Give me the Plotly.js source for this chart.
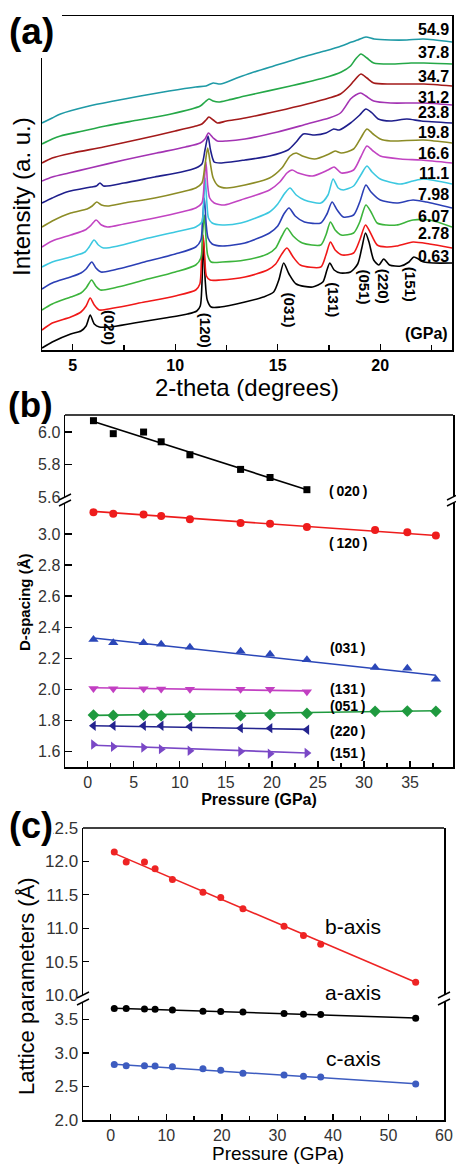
<!DOCTYPE html>
<html>
<head>
<meta charset="utf-8">
<script src="https://cdn.plot.ly/plotly-3.0.1.min.js"></script>
<style>html,body{margin:0;padding:0;background:#fff;}#chart{width:456px;height:1165px;}</style>
</head>
<body>
<div id="chart"></div>
<script>
// ---------------- DATA ----------------
// (a) XRD patterns: 2-theta (deg) and intensity (a.u., offset stacked)
const theta_063 = [3.5,4.0,4.9,5.4,5.65,5.85,6.05,6.3,6.8,8.0,9.5,10.6,11.05,11.22,11.3,11.38,11.46,11.56,11.75,12.2,13.4,14.3,14.8,15.05,15.29,15.55,15.9,16.7,17.2,17.4,17.54,17.75,18.06,18.55,18.9,19.1,19.28,19.45,19.68,19.93,20.17,20.45,21.0,21.4,21.64,22.13,22.6,23.5];
const int_063   = [2,8,16,19,24,35,26,23,23,27,32,36,39,44,65,110,70,50,43,43,48,53,58,70,87,76,66,63,68,80,87,80,77,78,86,102,117,108,90,85,91,85,84,88,93,88,87,87];
const theta_278 = [3.5,4.0,4.9,5.4,5.65,5.85,6.05,6.3,7.0,8.5,10.0,11.0,11.2,11.28,11.36,11.44,11.52,11.7,12.2,13.4,14.5,14.9,15.2,15.45,15.75,16.1,17.1,17.35,17.57,17.8,18.15,18.7,19.0,19.28,19.5,19.85,20.3,20.8,21.6,22.4,23.5];
const int_278   = [20,27,33,38,44,52,45,40,42,48,54,60,66,90,115,92,74,70,70,73,80,86,96,102,93,85,83,95,108,100,95,97,110,125,118,105,103,104,108,106,102];
const theta_607 = [3.5,4.0,4.9,5.4,5.65,5.92,6.12,6.35,7.0,8.5,10.0,11.0,11.25,11.33,11.42,11.5,11.58,11.75,12.3,13.4,14.5,14.9,15.2,15.45,15.75,16.2,17.1,17.35,17.57,17.8,18.1,18.7,19.0,19.3,19.55,19.85,20.3,20.8,21.6,22.4,23.5];
const int_607   = [40,46,53,57,62,70,64,60,62,70,78,85,92,115,135,112,95,88,88,90,96,102,114,122,114,107,105,115,128,120,115,117,128,145,138,127,125,125,130,130,123];
const theta_798 = [3.5,4.0,4.9,5.4,5.65,5.93,6.13,6.38,7.0,8.5,10.0,11.0,11.25,11.33,11.42,11.5,11.6,11.8,12.3,13.4,14.6,15.0,15.3,15.55,15.85,16.3,17.1,17.4,17.65,17.9,18.2,18.7,19.0,19.3,19.55,20.0,20.8,21.6,22.25,23.5];
const int_798   = [61,67,73,77,81,88,82,78,80,88,96,103,110,130,152,128,112,106,104,107,117,124,136,142,134,128,127,136,148,140,133,135,148,165,158,150,147,150,148,142];
const theta_111 = [3.5,4.0,4.9,5.6,5.8,6.04,6.25,6.5,7.2,8.5,10.0,11.0,11.3,11.38,11.46,11.54,11.62,11.8,12.3,13.2,14.6,15.0,15.35,15.6,15.9,16.3,17.1,17.45,17.7,17.95,18.2,18.7,19.05,19.35,19.6,20.0,21.0,21.6,22.1,23.5];
const int_111   = [83,88,93,98,103,110,105,102,104,111,118,123,128,145,172,148,132,127,125,127,138,146,157,162,155,150,147,155,171,162,160,164,175,184,178,171,166,169,171,166];
const theta_166 = [3.5,4.0,4.9,5.6,5.9,6.14,6.4,6.7,7.5,9.0,10.3,11.0,11.3,11.42,11.5,11.58,11.68,11.9,12.4,13.2,14.6,15.1,15.45,15.7,16.0,16.7,17.45,17.75,18.1,18.7,19.05,19.35,19.65,20.0,21.0,22.0,23.5];
const int_166   = [103,109,115,120,125,130,125,123,126,132,138,142,147,170,188,165,152,147,145,150,160,168,177,180,177,174,180,183,177,180,193,204,199,194,191,190,187];
const theta_198 = [3.5,4.0,4.9,5.7,5.95,6.17,6.4,6.7,7.5,9.0,10.3,11.0,11.3,11.45,11.58,11.7,11.85,12.1,12.5,13.4,14.6,15.2,15.6,15.9,16.2,16.8,17.5,17.8,18.1,18.7,19.05,19.35,19.65,20.0,20.5,22.1,23.5];
const int_198   = [123,129,137,141,144,148,145,144,147,152,158,162,167,185,202,188,172,164,162,165,172,182,194,197,194,191,196,199,197,201,212,221,216,211,209,210,207];
const theta_238 = [3.5,4.0,4.7,5.9,6.15,6.33,6.5,7.5,9.0,10.3,11.0,11.3,11.45,11.6,11.72,11.9,12.2,13.4,14.6,15.5,15.9,16.25,16.8,17.35,17.73,18.0,18.55,19.0,19.3,19.6,19.9,20.5,21.3,22.0,23.5];
const int_238   = [147,152,158,163,164,167,164,167,173,178,182,186,200,214,200,188,187,190,194,200,208,216,215,217,221,220,227,235,241,237,231,229,231,229,227];
const theta_312 = [3.5,4.0,4.8,5.84,7.5,9.1,10.5,11.22,11.45,11.62,11.85,12.05,12.5,13.4,15.0,16.43,17.5,18.06,18.55,18.8,19.04,19.3,19.68,20.5,21.5,22.13,23.5];
const int_312   = [169,173,177,182,190,197,203,207,211,217,212,209,209,211,218,226,232,237,251,255,257,254,249,247,247,247,245];
const theta_347 = [3.5,4.0,5.0,6.5,8.3,10.0,11.0,11.3,11.5,11.64,11.85,12.05,12.5,13.4,15.0,16.43,17.5,18.06,18.5,18.71,19.06,19.35,19.68,20.5,21.5,22.13,23.5];
const int_347   = [187,192,197,203,211,219,224,226,230,233,230,227,229,232,239,246,252,256,264,269,276,272,267,266,266,266,264];
const theta_378 = [3.5,4.0,4.4,5.5,6.6,8.2,9.8,11.22,11.45,11.64,11.85,12.12,12.6,13.4,15.62,17.24,18.1,18.55,18.8,19.06,19.35,19.68,20.5,21.5,22.13,23.5];
const int_378   = [206,211,214,219,224,230,236,244,248,251,249,248,250,254,264,272,278,284,291,296,292,287,286,287,287,286];
const theta_549 = [3.5,4.0,4.4,5.8,7.0,8.3,9.7,11.0,11.5,11.85,12.2,13.0,13.7,14.8,16.4,17.3,18.1,18.6,18.9,19.3,19.7,20.5,21.3,22.1,23.5];
const int_549   = [227,232,236,244,249,254,259,263,264,267,266,272,277,284,294,299,304,308,310,313,311,310,310,311,308];

const pressureLabels = ['0.63','2.78','6.07','7.98','11.1','16.6','19.8','23.8','31.2','34.7','37.8','54.9'];
const peakLabels = ['(020)','(120)','(031)','(131)','(051)','(220)','(151)'];
const peakTheta  = [6.82, 11.46, 15.62, 17.73, 19.23, 20.2, 21.51];

// (b) d-spacing vs pressure
const pressB8  = [0.63, 2.78, 6.07, 7.98, 11.1, 16.6, 19.8, 23.8];
const pressB11 = [0.63, 2.78, 6.07, 7.98, 11.1, 16.6, 19.8, 23.8, 31.2, 34.7, 37.8];
const d020 = [6.07, 5.99, 6.00, 5.94, 5.86, 5.77, 5.72, 5.645];
const d120 = [3.14, 3.13, 3.125, 3.115, 3.095, 3.07, 3.065, 3.045, 3.025, 3.01, 2.99];
const d031 = [2.32, 2.30, 2.30, 2.29, 2.27, 2.245, 2.225, 2.19, 2.14, 2.135, 2.065];
const d131 = [2.005, 2.004, 2.004, 2.002, 2.0, 2.0, 2.0, 1.985];
const d051 = [1.834, 1.832, 1.834, 1.83, 1.828, 1.83, 1.837, 1.845, 1.858, 1.86, 1.858];
const d220 = [1.765, 1.765, 1.765, 1.765, 1.76, 1.75, 1.75, 1.74];
const d151 = [1.645, 1.63, 1.625, 1.615, 1.605, 1.60, 1.585, 1.59];
const fitX8 = [0.63, 23.8], fitX11 = [0.63, 37.8];
const fit020 = [6.065, 5.645], fit120 = [3.145, 2.99], fit031 = [2.33, 2.09];
const fit131 = [2.01, 1.99], fit051 = [1.832, 1.862], fit220 = [1.765, 1.742], fit151 = [1.64, 1.59];
const hklLabels = ['(\u2009020\u2009)','(\u2009120\u2009)','(031\u2009)','(131\u2009)','(051\u2009)','(220\u2009)','(151\u2009)'];

// (c) lattice parameters vs pressure
const pressC = [0.63, 2.78, 6.07, 7.98, 11.1, 16.6, 19.8, 23.8, 31.2, 34.7, 37.8, 54.9];
const bAxis = [12.14, 11.99, 11.99, 11.89, 11.73, 11.54, 11.46, 11.29, 11.03, 10.89, 10.76, 10.19];
const aAxis = [3.66, 3.66, 3.655, 3.65, 3.64, 3.62, 3.615, 3.61, 3.585, 3.575, 3.57, 3.515];
const cAxis = [2.825, 2.81, 2.81, 2.805, 2.795, 2.765, 2.74, 2.695, 2.67, 2.65, 2.64, 2.535];
const fitXC = [0.63, 54.9];
const fitB = [12.12, 10.19], fitA = [3.665, 3.52], fitC = [2.83, 2.54];

// ---------------- LAYOUT HELPERS ----------------
const W = 456, H = 1165;
const px = x => x / W, py = y => 1 - y / H;
const FONT = 'Arial, "Liberation Sans", sans-serif';

const traces = [];
// (a)
const xrd = [
  [theta_063, int_063, '#000000'], [theta_278, int_278, '#f01818'],
  [theta_607, int_607, '#3cb43c'], [theta_798, int_798, '#2b3fb5'],
  [theta_111, int_111, '#3cc8e0'], [theta_166, int_166, '#c244c2'],
  [theta_198, int_198, '#8c8c26'], [theta_238, int_238, '#1f1f8c'],
  [theta_312, int_312, '#a333b3'], [theta_347, int_347, '#a31a1a'],
  [theta_378, int_378, '#25a848'], [theta_549, int_549, '#1f9aa6']
];
xrd.forEach((s, i) => traces.push({
  x: s[0], y: s[1], xaxis: 'x', yaxis: 'y', mode: 'lines', name: pressureLabels[i] + ' GPa',
  line: {color: s[2], width: 1.6, shape: 'spline', smoothing: 0.7}, hoverinfo: 'skip'
}));

// (b)
function series(x, y, fx, fy, xa, ya, color, symbol, size) {
  traces.push({x: fx, y: fy, xaxis: xa, yaxis: ya, mode: 'lines', line: {color: color, width: 1.6}});
  traces.push({x: x, y: y, xaxis: xa, yaxis: ya, mode: 'markers', marker: {color: color, symbol: symbol, size: size, line: {width: 0}}});
}
series(pressB8,  d020, fitX8,  fit020, 'x2', 'y3', '#000000', 'square', 7);
series(pressB11, d120, fitX11, fit120, 'x2', 'y2', '#ee1c1c', 'circle', 8);
series(pressB11, d031, fitX11, fit031, 'x2', 'y2', '#2b47b8', 'triangle-up', 9);
series(pressB8,  d131, fitX8,  fit131, 'x2', 'y2', '#c23fc2', 'triangle-down', 9);
series(pressB11, d051, fitX11, fit051, 'x2', 'y2', '#1f9a3f', 'diamond', 9);
series(pressB8,  d220, fitX8,  fit220, 'x2', 'y2', '#24248f', 'triangle-left', 9);
series(pressB8,  d151, fitX8,  fit151, 'x2', 'y2', '#7a48c6', 'triangle-right', 9);

// (c)
series(pressC, bAxis, fitXC, fitB, 'x3', 'y5', '#ee2424', 'circle', 7);
series(pressC, aAxis, fitXC, fitA, 'x3', 'y4', '#000000', 'circle', 7);
series(pressC, cAxis, fitXC, fitC, 'x3', 'y4', '#3d5cc0', 'circle', 7);

// ---------------- AXES ----------------
const baseAx = {showgrid: false, zeroline: false, showline: true, linecolor: '#000', linewidth: 1.5,
  ticks: 'inside', tickcolor: '#000', tickwidth: 1.3, automargin: false};

const layout = {
  width: W, height: H, margin: {l: 0, r: 0, t: 0, b: 0},
  paper_bgcolor: '#fff', plot_bgcolor: 'rgba(0,0,0,0)', showlegend: false,
  font: {family: FONT, color: '#000'},
  xaxis: Object.assign({}, baseAx, {
    domain: [px(42), px(452)], anchor: 'y', range: [3.5, 23.5], mirror: true,
    tickmode: 'linear', tick0: 0, dtick: 5, ticklen: 6,
    minor: {dtick: 2.5, ticks: 'inside', ticklen: 5, tickcolor: '#000', tickwidth: 1.3},
    tickfont: {family: FONT, size: 16, color: '#000', weight: 'bold'},
    title: {text: '2-theta (degrees)', font: {family: FONT, size: 24, color: '#000'}, standoff: 2}
  }),
  yaxis: Object.assign({}, baseAx, {
    domain: [py(350), py(16)], anchor: 'x', range: [0, 334], mirror: true,
    ticks: '', showticklabels: false
  }),
  xaxis2: Object.assign({}, baseAx, {
    domain: [px(65), px(453)], anchor: 'y2', range: [-2.46, 39.66],
    tickmode: 'linear', tick0: 0, dtick: 5, ticklen: 6,
    minor: {dtick: 2.5, ticks: 'inside', ticklen: 4, tickcolor: '#000', tickwidth: 1.3},
    tickfont: {family: FONT, size: 16, color: '#333'},
    title: {text: 'Pressure (GPa)', font: {family: FONT, size: 16, color: '#000', weight: 'bold'}, standoff: 3}
  }),
  yaxis2: Object.assign({}, baseAx, {
    domain: [py(767), py(503)], anchor: 'x2', range: [1.5, 3.199], mirror: true,
    tickmode: 'linear', tick0: 0, dtick: 0.2, tickformat: '.1f', ticklen: 7,
    tickfont: {family: FONT, size: 16, color: '#333'}
  }),
  yaxis3: Object.assign({}, baseAx, {
    domain: [py(497), py(415)], anchor: 'x2', range: [5.6, 6.105], mirror: true,
    tickmode: 'linear', tick0: 0, dtick: 0.2, tickformat: '.1f', ticklen: 7,
    tickfont: {family: FONT, size: 16, color: '#333'}
  }),
  xaxis3: Object.assign({}, baseAx, {
    domain: [px(83), px(444)], anchor: 'y4', range: [-5, 60],
    tickmode: 'linear', tick0: 0, dtick: 10, ticklen: 6,
    minor: {dtick: 5, ticks: 'inside', ticklen: 4, tickcolor: '#000', tickwidth: 1.3},
    tickfont: {family: FONT, size: 16, color: '#333'}
  }),
  yaxis4: Object.assign({}, baseAx, {
    domain: [py(1120), py(1002)], anchor: 'x3', range: [2.0, 3.758], mirror: true,
    tickmode: 'linear', tick0: 0, dtick: 0.5, tickformat: '.1f', ticklen: 6,
    tickfont: {family: FONT, size: 17, color: '#333'}
  }),
  yaxis5: Object.assign({}, baseAx, {
    domain: [py(995), py(828)], anchor: 'x3', range: [10.0, 12.5], mirror: true,
    tickmode: 'linear', tick0: 0, dtick: 0.5, tickformat: '.1f', ticklen: 6,
    tickfont: {family: FONT, size: 17, color: '#333'}
  })
};

// ---------------- SHAPES ----------------
const shapes = [];
const L = (x0, y0, x1, y1) => shapes.push({type: 'line', xref: 'paper', yref: 'paper',
  x0: px(x0), y0: py(y0), x1: px(x1), y1: py(y1), line: {color: '#000', width: 1.5}, layer: 'above'});
// white corner behind "(a)"
shapes.push({type: 'rect', xref: 'paper', yref: 'paper', x0: 0, x1: px(62), y0: py(58), y1: 1,
  fillcolor: '#fff', line: {width: 0}, layer: 'above'});
// top borders of (b) and (c)
shapes.push({type: 'line', xref: 'x2 domain', yref: 'y3 domain', x0: 0, x1: 1, y0: 1, y1: 1, line: {color: '#000', width: 1.5}});
shapes.push({type: 'line', xref: 'x3 domain', yref: 'y5 domain', x0: 0, x1: 1, y0: 1, y1: 1, line: {color: '#000', width: 1.5}});
// axis break marks
function brk(x, yTop, yBot) { L(x - 6, yTop + 3, x + 6, yTop - 3); L(x - 6, yBot + 3, x + 6, yBot - 3); }
brk(65, 497, 503); brk(453, 497, 503);
brk(83, 995, 1002); brk(444, 995, 1002);
layout.shapes = shapes;

// ---------------- ANNOTATIONS ----------------
const ann = [];
function A(text, x, y, size, opts) {
  ann.push(Object.assign({text: text, x: px(x), y: py(y), xref: 'paper', yref: 'paper', showarrow: false,
    xanchor: 'center', yanchor: 'middle', font: {family: FONT, size: size, color: '#000'}}, opts || {}));
}
// panel letters
A('(a)', 31, 31, 37, {font: {family: FONT, size: 37, color: '#000', weight: 'bold'}});
A('(b)', 30, 405, 35, {font: {family: FONT, size: 35, color: '#000', weight: 'bold'}});
A('(c)', 31, 825, 36, {font: {family: FONT, size: 36, color: '#000', weight: 'bold'}, bgcolor: '#fff', borderpad: 0});
// (a) y title
A('Intensity (a. u.)', 22, 197, 24, {textangle: -90});
// (a) pressure labels (right edge)
const labY = [256.7, 233.5, 216.7, 194, 173.3, 153, 132.5, 112.5, 97, 76, 53, 30];
pressureLabels.forEach((t, i) => A(t, 451, labY[i], 16, {xanchor: 'right', font: {family: FONT, size: 16, color: '#000', weight: 'bold'}}));
A('(GPa)', 450, 333, 16, {xanchor: 'right', font: {family: FONT, size: 16, color: '#000', weight: 'bold'}});
// (a) peak labels, rotated, placed at their 2-theta positions
const peakY = [327, 330, 310, 300, 287, 286, 284];
peakLabels.forEach((t, i) => ann.push({text: t, x: peakTheta[i], xref: 'x', y: py(peakY[i]), yref: 'paper',
  showarrow: false, textangle: 90, xanchor: 'center', yanchor: 'middle',
  font: {family: FONT, size: 15, color: '#000', weight: 'bold'}}));
// (b) labels
const hklY = [490.7, 542.7, 648.3, 689, 706, 730.7, 752.7];
hklLabels.forEach((t, i) => A(t, 348, hklY[i], 14, {font: {family: FONT, size: 14, color: '#000', weight: 'bold'}}));
A('D-spacing (\u00c5)', 24, 602, 15, {textangle: -90, font: {family: FONT, size: 15, color: '#000', weight: 'bold'}});
// (c) labels
A('b-axis', 353, 926, 21);
A('a-axis', 353, 992, 21);
A('c-axis', 353, 1058, 21);
A('Lattice parameters (\u00c5)', 26, 986, 22, {textangle: -90});
A('Pressure (GPa)', 278, 1153.5, 19, {borderpad: 0});
layout.annotations = ann;

Plotly.newPlot('chart', traces, layout, {displayModeBar: false, staticPlot: true});
</script>
</body>
</html>
